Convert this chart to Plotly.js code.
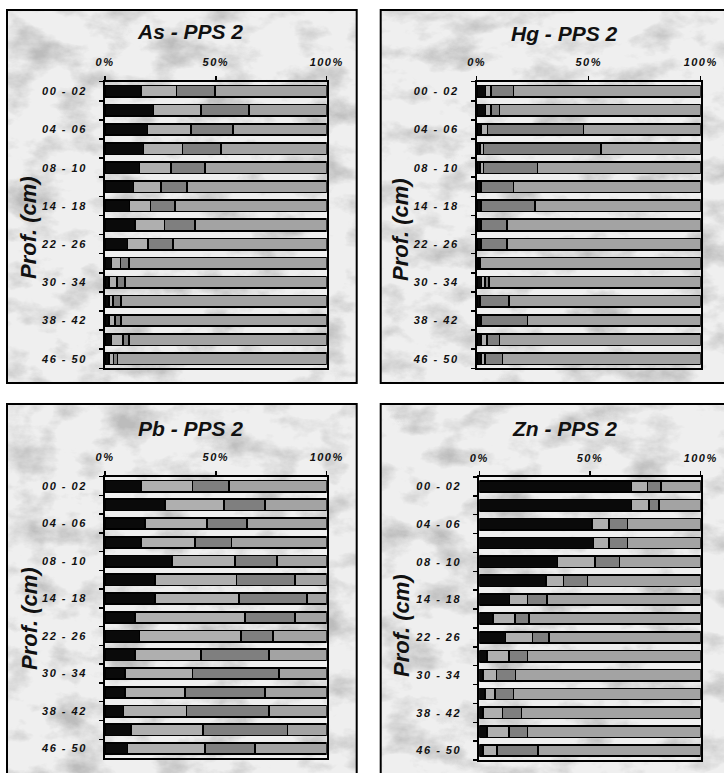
<!DOCTYPE html>
<html>
<head>
<meta charset="utf-8">
<script src="https://cdn.plot.ly/plotly-3.0.1.min.js"></script>
<style>
html,body{margin:0;padding:0;background:#fff;}
#chart{width:724px;height:773px;}
g[class$="tick"] > text{letter-spacing:1.5px;}
</style>
</head>
<body>
<div id="chart"></div>
<script>
// Depth categories (cm)
const depths = ['00 - 02','02 - 04','04 - 06','06 - 08','08 - 10','10 - 14','14 - 18','18 - 22','22 - 26','26 - 30','30 - 34','34 - 38','38 - 42','42 - 46','46 - 50'];
const depthTickText = ['00 - 02','','04 - 06','','08 - 10','','14 - 18','','22 - 26','','30 - 34','','38 - 42','','46 - 50'];
const pctTickVals = [0, 50, 100];
const pctTickText = ['0%', '50%', '100%'];
const fractionNames = ['F1', 'F2', 'F3', 'F4'];

// As - PPS 2 (percent of total, per fraction)
const asF1 = [16.2,21.8,19.1,17.3,15.5,12.8,11.0,13.5,10.1,2.9,1.8,1.8,1.8,2.9,1.8];
const asF2 = [16.1,21.5,19.7,17.7,14.3,12.5,9.6,13.4,9.4,4.1,3.5,1.7,2.7,5.1,2.1];
const asF3 = [17.3,21.7,18.8,17.3,15.3,11.7,11.0,13.6,11.2,3.8,3.6,3.7,2.7,2.8,1.7];
const asF4 = [50.4,35.0,42.4,47.7,54.9,63.0,68.4,59.5,69.3,89.2,91.1,92.8,92.8,89.2,94.4];

// Hg - PPS 2
const hgF1 = [4.0,4.0,1.9,1.5,1.5,1.9,1.9,1.9,1.9,1.0,2.2,1.2,1.9,1.9,1.9];
const hgF2 = [2.4,2.4,2.9,1.5,1.5,0.3,0.3,0.3,0.3,0.2,1.5,0.2,0.3,2.6,1.7];
const hgF3 = [10.0,3.7,42.8,52.5,24.1,14.2,23.8,11.2,11.2,0.3,1.8,13.0,20.4,5.6,8.0];
const hgF4 = [83.6,89.9,52.4,44.5,72.9,83.6,74.0,86.6,86.6,98.5,94.5,85.6,77.4,89.9,88.4];

// Pb - PPS 2
const pbF1 = [16.2,27.1,18.0,16.2,30.1,22.6,22.6,13.5,15.5,13.5,9.0,9.0,8.3,11.7,10.1];
const pbF2 = [23.2,26.7,27.9,24.4,28.5,36.8,37.9,49.7,45.9,29.8,30.5,27.1,28.5,32.4,35.0];
const pbF3 = [16.5,18.4,18.2,16.4,19.0,26.3,30.6,22.5,14.5,30.8,39.0,36.2,37.2,38.3,22.6];
const pbF4 = [44.1,27.8,35.9,43.0,22.4,14.3,8.9,14.3,24.1,25.9,21.5,27.7,26.0,17.6,32.3];

// Zn - PPS 2
const znF1 = [68.8,68.8,50.8,51.5,35.4,30.0,13.7,6.3,11.9,3.6,1.8,2.7,1.8,3.6,1.8];
const znF2 = [7.1,7.9,7.8,7.2,16.9,8.0,8.0,9.8,12.2,9.8,6.0,4.4,8.7,9.8,6.3];
const znF3 = [6.2,4.6,8.3,8.2,11.0,10.8,9.0,6.3,7.5,8.3,8.5,8.3,8.6,8.3,18.3];
const znF4 = [17.9,18.7,33.1,33.1,36.7,51.2,69.3,77.6,68.4,78.3,83.7,84.6,80.9,78.3,73.6];

const W = 724, H = 773;
const px = p => p / W;
const py = p => 1 - p / H;
const FONT = 'Liberation Sans, Arial, sans-serif';
const colors = ['#0a0a0a', '#afafaf', '#7f7f7f', '#a3a3a3'];

const panels = [
  {title: 'As - PPS 2', data: [asF1, asF2, asF3, asF4], plot: [105, 81.7, 326.7, 368.3], box: [7, 10, 356.7, 383], tpos: [190, 32], ypos: [29, 228]},
  {title: 'Hg - PPS 2', data: [hgF1, hgF2, hgF3, hgF4], plot: [476.7, 81.7, 700.7, 368.3], box: [380.7, 10, 740, 383], tpos: [564, 33], ypos: [401, 230]},
  {title: 'Pb - PPS 2', data: [pbF1, pbF2, pbF3, pbF4], plot: [105, 476.7, 326.7, 758], box: [7, 404, 356.7, 790], tpos: [190, 428], ypos: [29, 619]},
  {title: 'Zn - PPS 2', data: [znF1, znF2, znF3, znF4], plot: [479.3, 477, 700.7, 760], box: [380.7, 404, 740, 790], tpos: [564, 428], ypos: [401, 626]}
];

// marble-like texture
const marbleSvg = "<svg xmlns='http://www.w3.org/2000/svg' width='360' height='380'>" +
  "<filter id='f' x='0' y='0' width='100%' height='100%'><feTurbulence type='fractalNoise' baseFrequency='0.02 0.034' numOctaves='5' seed='SEED'/>" +
  "<feColorMatrix type='matrix' values='0 0 0 0 0.5  0 0 0 0 0.5  0 0 0 0 0.5  2.6 0 0 0 -1.22'/></filter>" +
  "<rect width='100%' height='100%' fill='#efefef'/><rect width='100%' height='100%' filter='url(#f)'/></svg>";

const traces = [];
const layout = {
  width: W, height: H,
  margin: {l: 0, r: 0, t: 0, b: 0},
  paper_bgcolor: '#ffffff',
  plot_bgcolor: '#939393',
  barmode: 'stack',
  bargap: 0.4,
  showlegend: false,
  font: {family: FONT, color: '#111111'},
  shapes: [], annotations: [], images: []
};

panels.forEach((p, i) => {
  const n = i === 0 ? '' : String(i + 1);
  const xa = 'x' + n, ya = 'y' + n;
  p.data.forEach((vals, k) => {
    traces.push({
      type: 'bar', orientation: 'h', name: fractionNames[k],
      x: vals, y: depths, xaxis: xa, yaxis: ya,
      marker: {color: colors[k], line: {color: '#000000', width: 1.6}},
      hoverinfo: 'x+y+name'
    });
  });
  layout['xaxis' + n] = {
    anchor: ya, side: 'top', domain: [px(p.plot[0]), px(p.plot[2])],
    range: [0, 100], tickvals: pctTickVals, ticktext: pctTickText,
    ticks: 'outside', ticklen: 4, tickwidth: 1.5, tickcolor: '#000',
    showgrid: false, zeroline: false, showline: true, linecolor: '#000', linewidth: 2, mirror: true,
    ticklabelstandoff: 5,
    tickfont: {family: FONT, size: 11, weight: 'bold', style: 'italic', color: '#111'},
    fixedrange: true
  };
  layout['yaxis' + n] = {
    anchor: xa, domain: [py(p.plot[3]), py(p.plot[1])],
    type: 'category', categoryorder: 'array', categoryarray: depths,
    autorange: 'reversed',
    tickvals: depths, ticktext: depthTickText, tickson: 'boundaries',
    ticks: 'outside', ticklen: 4, tickwidth: 1.5, tickcolor: '#000',
    showgrid: false, zeroline: false, showline: true, linecolor: '#000', linewidth: 2, mirror: true,
    ticklabelstandoff: 14,
    tickfont: {family: FONT, size: 11, weight: 'bold', style: 'italic', color: '#111'},
    fixedrange: true
  };
  const b = p.box;
  layout.images.push({
    source: 'data:image/svg+xml;charset=utf-8,' + encodeURIComponent(marbleSvg.replace('SEED', String(3 + i * 7))),
    xref: 'paper', yref: 'paper', x: px(b[0]), y: py(b[1]),
    sizex: px(b[2]) - px(b[0]), sizey: py(b[1]) - py(b[3]),
    xanchor: 'left', yanchor: 'top', sizing: 'stretch', layer: 'below'
  });
  layout.shapes.push({
    type: 'rect', xref: 'paper', yref: 'paper', layer: 'below',
    x0: px(b[0]), x1: px(b[2]), y0: py(b[3]), y1: py(b[1]),
    line: {color: '#000', width: 2}, fillcolor: 'rgba(0,0,0,0)'
  });
  layout.annotations.push({
    text: p.title, xref: 'paper', yref: 'paper', x: px(p.tpos[0]), y: py(p.tpos[1]),
    xanchor: 'center', yanchor: 'middle', showarrow: false,
    font: {family: FONT, size: 21, weight: 'bold', style: 'italic', color: '#111'}
  });
  layout.annotations.push({
    text: 'Prof. (cm)', xref: 'paper', yref: 'paper', x: px(p.ypos[0]), y: py(p.ypos[1]),
    xanchor: 'center', yanchor: 'middle', showarrow: false, textangle: -90,
    font: {family: FONT, size: 22, weight: 'bold', style: 'italic', color: '#111'}
  });
});

Plotly.newPlot('chart', traces, layout, {displayModeBar: false, staticPlot: true});
</script>
</body>
</html>
